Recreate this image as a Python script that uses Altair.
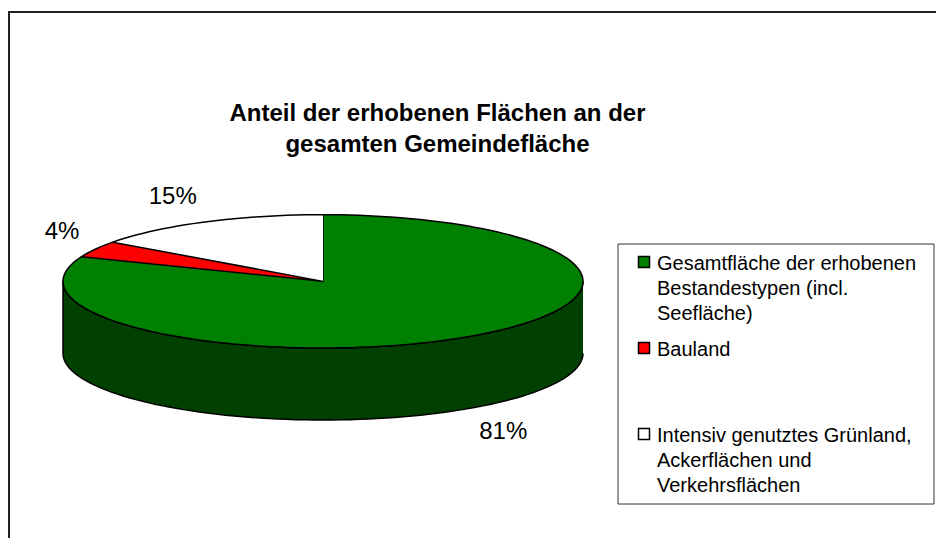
import numpy as np
import pandas as pd
import altair as alt

# ---------------- data ----------------
categories = [
    "Gesamtfläche der erhobenen Bestandestypen (incl. Seefläche)",
    "Bauland",
    "Intensiv genutztes Grünland, Ackerflächen und Verkehrsflächen",
]
legend_lines = [
    ["Gesamtfläche der erhobenen", "Bestandestypen (incl.", "Seefläche)"],
    ["Bauland"],
    ["Intensiv genutztes Grünland,", "Ackerflächen und", "Verkehrsflächen"],
]
values = [81, 4, 15]
top_colors = ["#008000", "#FF0000", "#FFFFFF"]
side_colors = ["#004000", "#800000", "#808080"]
title_lines = ["Anteil der erhobenen Flächen an der", "gesamten Gemeindefläche"]

# ---------------- layout ----------------
OFF = 8
W, H = 928, 530
FONT = "Liberation Sans"
X_RANGE = [63 - OFF, 583 - OFF]
Y_RANGE = [214.7 - OFF, 420 - OFF]
A_PX = (X_RANGE[1] - X_RANGE[0]) / 2.0
B_PX = 66.7
DEPTH = 72 / B_PX
LABEL_SIZE = 24
LABEL_GAP = 18  # px between pie edge and label box

# ---------------- geometry from values ----------------
total = float(sum(values))
starts = np.cumsum([0] + values[:-1]) / total * 360.0
ends = starts + np.array(values) / total * 360.0

top_rows, side_rows, label_rows = [], [], []
for i, (cat, s, e, v) in enumerate(zip(categories, starts, ends, values)):
    n = max(int(np.ceil((e - s) / 2.0)), 2)
    th = np.radians(np.linspace(s, e, n + 1))
    xs = np.concatenate([[0.0], np.sin(th)])
    ys = np.concatenate([[0.0], -np.cos(th)])
    for k, (x, y) in enumerate(zip(xs, ys)):
        top_rows.append(dict(poly=f"top{i}", cat=cat, k=k, x=x, y=y))
    a, b = max(s, 90.0), min(e, 270.0)
    if b > a:
        m = max(int(np.ceil((b - a) / 2.0)), 2)
        th = np.radians(np.linspace(a, b, m + 1))
        up_x, up_y = np.sin(th), -np.cos(th)
        xs = np.concatenate([up_x, up_x[::-1]])
        ys = np.concatenate([up_y, (up_y + DEPTH)[::-1]])
        for k, (x, y) in enumerate(zip(xs, ys)):
            side_rows.append(dict(poly=f"side{i}", cat=cat, k=k, x=x, y=y))
    # label: just outside the pie edge at the slice's middle angle
    text = f"{v}%"
    mid = np.radians((s + e) / 2.0)
    sx, sy = np.sin(mid), -np.cos(mid)
    edge_y = sy + (DEPTH if sy > 0 else 0.0)
    hw = LABEL_SIZE * (0.556 * (len(text) - 1) + 0.889) / 2.0
    hh = LABEL_SIZE * 0.716 / 2.0
    dx_px = sx * LABEL_GAP + np.sign(sx) * hw
    dy_px = sy * LABEL_GAP + np.sign(sy) * hh
    label_rows.append(dict(cat=cat, x=sx + dx_px / A_PX, y=edge_y + dy_px / B_PX, text=text))

top_df = pd.DataFrame(top_rows)
side_df = pd.DataFrame(side_rows)
label_df = pd.DataFrame(label_rows)

xs_scale = alt.Scale(domain=[-1, 1], range=X_RANGE, nice=False, zero=False)
ys_scale = alt.Scale(domain=[-1, 1 + DEPTH], range=Y_RANGE, nice=False, zero=False)

side = alt.Chart(side_df).mark_line(stroke="black", strokeWidth=1.5, strokeJoin="round").encode(
    x=alt.X("x:Q", scale=xs_scale, axis=None),
    y=alt.Y("y:Q", scale=ys_scale, axis=None),
    order=alt.Order("k:Q"),
    detail="poly:N",
    fill=alt.Fill("cat:N", scale=alt.Scale(domain=categories, range=side_colors), legend=None),
)

top = alt.Chart(top_df).mark_line(stroke="black", strokeWidth=1.5, strokeJoin="round").encode(
    x=alt.X("x:Q", scale=xs_scale, axis=None),
    y=alt.Y("y:Q", scale=ys_scale, axis=None),
    order=alt.Order("k:Q"),
    detail="poly:N",
    fill=alt.Fill("cat:N", scale=alt.Scale(domain=categories, range=top_colors), legend=None),
)

labels = alt.Chart(label_df).mark_text(
    font=FONT, fontSize=LABEL_SIZE, color="black", baseline="middle", align="center"
).encode(
    x=alt.X("x:Q", scale=xs_scale, axis=None),
    y=alt.Y("y:Q", scale=ys_scale, axis=None),
    text="text:N",
)

# ---------------- title ----------------
title_df = pd.DataFrame({"line": title_lines, "i": range(len(title_lines))})
title = alt.Chart(title_df).mark_text(
    font=FONT, fontSize=24, fontWeight="bold", color="black", baseline="middle", align="center"
).transform_calculate(py="106 + 31 * datum.i").encode(
    x=alt.value(429.5),
    y=alt.Y("py:Q", scale=None),
    text="line:N",
)

# ---------------- legend ----------------
leg_box = alt.Chart(pd.DataFrame({"a": [0]})).mark_rect(fill="white", stroke="#333333", strokeWidth=1).encode(
    x=alt.value(610), x2=alt.value(926), y=alt.value(236), y2=alt.value(496)
)
leg_sym_df = pd.DataFrame({"cat": categories, "i": range(len(categories))})
leg_sym = alt.Chart(leg_sym_df).mark_square(size=121, stroke="black", strokeWidth=1.5, opacity=1).transform_calculate(
    py="254 + 86 * datum.i"
).encode(
    x=alt.value(636),
    y=alt.Y("py:Q", scale=None),
    fill=alt.Fill("cat:N", scale=alt.Scale(domain=categories, range=top_colors), legend=None),
)
leg_text_rows = []
for i, lines in enumerate(legend_lines):
    for j, ln in enumerate(lines):
        leg_text_rows.append(dict(i=i, j=j, line=ln))
leg_text = alt.Chart(pd.DataFrame(leg_text_rows)).mark_text(
    font=FONT, fontSize=20, color="black", align="left", baseline="middle"
).transform_calculate(py="256 + 86 * datum.i + 25 * datum.j").encode(
    x=alt.value(649),
    y=alt.Y("py:Q", scale=None),
    text="line:N",
)

# ---------------- frame ----------------
frame_df = pd.DataFrame({"a": [0]})
frame_top = alt.Chart(frame_df).mark_rule(color="#222222", strokeWidth=2).encode(
    x=alt.value(0), x2=alt.value(W), y=alt.value(4)
)
frame_left = alt.Chart(frame_df).mark_rule(color="#222222", strokeWidth=2).encode(
    x=alt.value(1), y=alt.value(4), y2=alt.value(H)
)

chart = alt.layer(
    frame_top, frame_left, side, top, labels, title, leg_box, leg_sym, leg_text
).resolve_scale(fill="independent").properties(
    width=W, height=H, padding=0, autosize=alt.AutoSizeParams(type="none")
).configure_view(stroke=None)

chart.save("out.html", embed_options={"renderer": "svg", "actions": False})
